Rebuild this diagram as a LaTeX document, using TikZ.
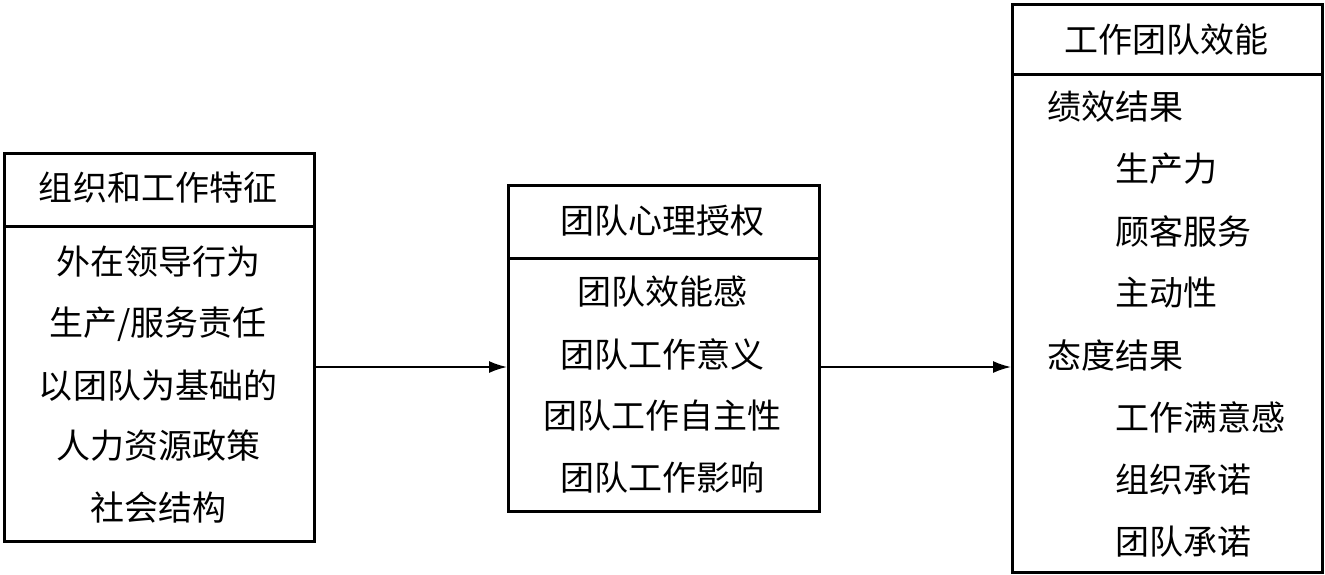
\documentclass[tikz,border=0pt]{standalone}
\usepackage{fontspec}
\setmainfont{Noto Sans CJK SC}
\usetikzlibrary{arrows.meta,calc}

\begin{document}
\begin{tikzpicture}[x=0.5pt,y=-0.5pt]

\tikzset{box/.style = {draw,line width=1.5pt,inner sep=0pt,anchor=north west}}
\tikzset{txt/.style = {inner sep=0pt,font=\fontsize{17}{20}\selectfont}}
\tikzset{edge/.style = {-{Latex[length=9pt,width=6pt]},line width=0.9pt}}

\useasboundingbox (0,0) rectangle (1325,574);

% three boxes
\node[box,minimum width=310pt*0.5,minimum height=388pt*0.5] (org) at (3,152) {};
\node[box,minimum width=311pt*0.5,minimum height=326pt*0.5] (psy) at (507,184) {};
\node[box,minimum width=310pt*0.5,minimum height=568pt*0.5] (eff) at (1011,3) {};

% header lines
\draw[line width=1.5pt] (3,226) -- (313,226);
\draw[line width=1.5pt] (507,258) -- (818,258);
\draw[line width=1.5pt] (1011,74) -- (1321,74);

% headers
\node[txt] (orgh) at (158,188) {组织和工作特征};
\node[txt] (psyh) at (662,221) {团队心理授权};
\node[txt] (effh) at (1166,40) {工作团队效能};

% left items
\foreach \y/\name/\t in {262/o1/外在领导行为, 324/o2/{生产/服务责任}, 386/o3/以团队为基础的, 446/o4/人力资源政策, 508/o5/社会结构}
\node[txt] (\name) at (158,\y) {\t};

% middle items
\foreach \y/\name/\t in {292/p1/团队效能感, 354/p2/团队工作意义, 416/p3/团队工作自主性, 478/p4/团队工作影响}
\node[txt] (\name) at (662,\y) {\t};

% right items
\foreach \x/\y/\name/\t in {1047/107/e1/绩效结果, 1115/169/e2/生产力, 1115/231/e3/顾客服务, 1115/293/e4/主动性, 1047/355/e5/态度结果, 1115/417/e6/工作满意感, 1115/480/e7/组织承诺, 1115/542/e8/团队承诺}
\node[txt,anchor=west] (\name) at (\x,\y) {\t};

% arrows
\coordinate (lvl) at (0,367);
\draw[edge] (org.east |- lvl) -- (psy.west |- lvl);
\draw[edge] (psy.east |- lvl) -- (eff.west |- lvl);

\end{tikzpicture}
\end{document}
